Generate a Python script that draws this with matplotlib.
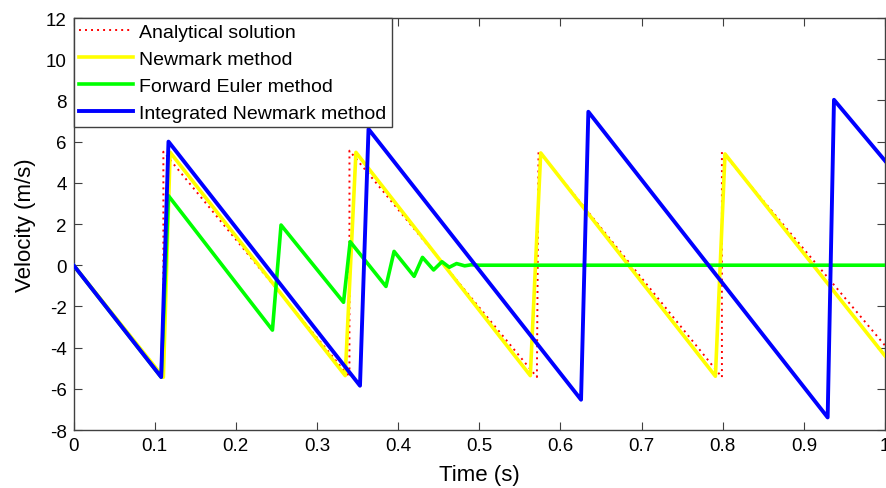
import matplotlib
matplotlib.use("Agg")
import matplotlib.pyplot as plt

plt.rcParams["font.family"] = ["Liberation Sans", "DejaVu Sans"]
plt.rcParams["axes.unicode_minus"] = False

# Velocity histories (time in s, velocity in m/s), breakpoints of each piecewise-linear record
t_analytical = [0.0, 0.1107, 0.1107, 0.340, 0.340, 0.571, 0.573, 0.799, 0.799, 1.0]
v_analytical = [0.0, -5.44, 5.51, -5.43, 5.56, -5.43, 5.56, -5.44, 5.51, -3.9]

t_newmark = [0.0, 0.1107, 0.119, 0.3348, 0.348, 0.5629, 0.5757, 0.791, 0.8028, 1.0]
v_newmark = [0.0, -5.44, 5.48, -5.36, 5.48, -5.36, 5.45, -5.39, 5.40, -4.4]

t_euler = [0.0, 0.108, 0.117, 0.2451, 0.2557, 0.3327, 0.3409, 0.385, 0.395,
           0.4197, 0.430, 0.4437, 0.454, 0.463, 0.472, 0.482, 0.490, 0.500, 1.0]
v_euler = [0.0, -5.43, 3.37, -3.15, 1.95, -1.80, 1.14, -1.03, 0.67,
           -0.54, 0.38, -0.23, 0.17, -0.10, 0.08, -0.03, 0.02, 0.0, 0.0]

t_integrated = [0.0, 0.108, 0.117, 0.353, 0.3635, 0.6254, 0.6344, 0.9293, 0.9371, 1.0]
v_integrated = [0.0, -5.43, 6.0, -5.85, 6.61, -6.53, 7.45, -7.39, 8.03, 5.07]

labels = ["Analytical solution", "Newmark method", "Forward Euler method",
          "Integrated Newmark method"]

x_ticks = [0, 0.1, 0.2, 0.3, 0.4, 0.5, 0.6, 0.7, 0.8, 0.9, 1]
x_ticklabels = ["0", "0.1", "0.2", "0.3", "0.4", "0.5", "0.6", "0.7", "0.8", "0.9", "1"]
y_ticks = [-8, -6, -4, -2, 0, 2, 4, 6, 8, 10, 12]
y_ticklabels = ["-8", "-6", "-4", "-2", "0", "2", "4", "6", "8", "10", "12"]

fig = plt.figure(figsize=(8.86, 4.89), dpi=100)
ax = fig.add_axes([0.0830, 0.1186, 0.9159, 0.8425])

ax.plot(t_analytical, v_analytical, color="#ff0000", lw=1.4,
        linestyle=(0, (1.0, 2.1)), label=labels[0], zorder=2)
ax.plot(t_newmark, v_newmark, color="#ffff00", lw=2.6, label=labels[1], zorder=3)
ax.plot(t_euler, v_euler, color="#00ff00", lw=2.6, label=labels[2], zorder=4)
ax.plot(t_integrated, v_integrated, color="#0000ff", lw=2.8, label=labels[3], zorder=5)

ax.set_xlim(0, 1)
ax.set_ylim(-8, 12)
ax.set_xticks(x_ticks)
ax.set_xticklabels(x_ticklabels)
ax.set_yticks(y_ticks)
ax.set_yticklabels(y_ticklabels)

ax.tick_params(direction="in", length=5.5, width=0.8, color="#404040",
               top=True, right=True, labelsize=13.5, pad=5)
for s in ax.spines.values():
    s.set_color("#404040")
    s.set_linewidth(1.0)

ax.set_xlabel("Time (s)", fontsize=16, labelpad=7)
ax.set_ylabel("Velocity (m/s)", fontsize=16, labelpad=7)

leg = ax.legend(loc="upper left", bbox_to_anchor=(0, 1), borderaxespad=0,
                fontsize=14, frameon=True, fancybox=False, framealpha=1,
                edgecolor="#404040", handlelength=2.8, handletextpad=0.3,
                labelspacing=0.48, borderpad=0.28)
leg.get_frame().set_linewidth(1.0)

fig.savefig("out.png", dpi=100)
